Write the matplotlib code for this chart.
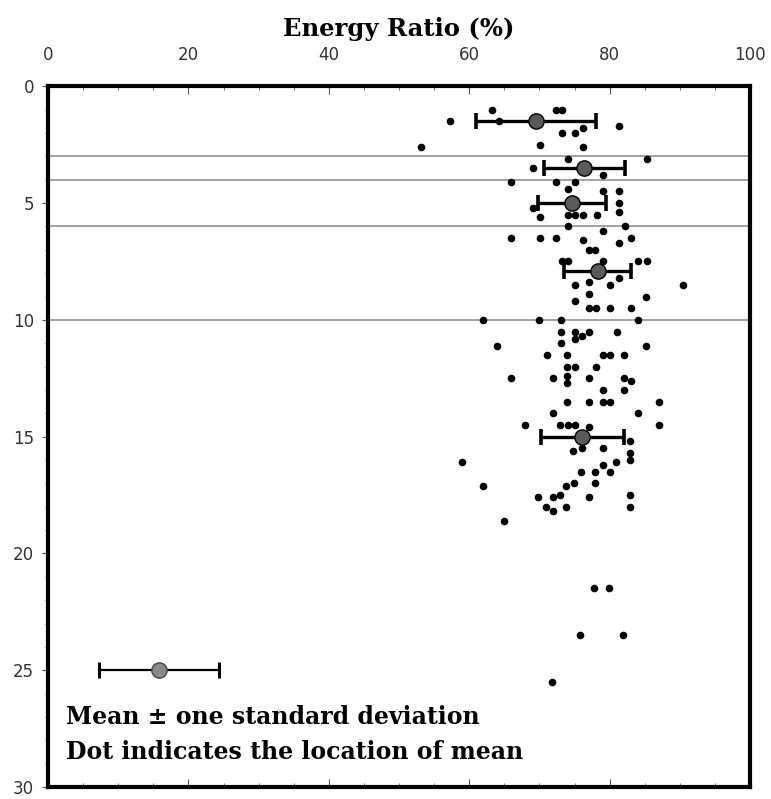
import matplotlib.pyplot as plt
import matplotlib.ticker as ticker

# Individual measurements: energy ratio (%) and depth
ratio = [57.2, 53.2, 63.2, 64.2, 72.3, 73.2, 81.3, 76.2, 73.2, 75.0, 70.1, 76.2,
         85.3, 69.1, 79.1, 74.1, 66.0, 72.3, 75.0, 74.1, 79.1, 81.3,
         81.3, 69.1, 70.1, 74.1, 75.0, 76.2, 78.2, 81.3, 74.1, 82.2, 79.1,
         66.0, 70.1, 72.3, 76.2, 83.1, 81.3, 77.0, 77.9,
         73.2, 74.1, 79.1, 84.1, 85.3, 75.0, 77.0, 80.1, 81.3, 90.5, 77.0, 85.2, 75.0,
         77.0, 78.1, 80.1, 83.1,
         62.0, 70.0, 73.1, 84.1, 73.1, 75.0, 77.1, 81.0, 76.0, 75.0,
         64.0, 73.1, 85.2, 71.1, 73.9, 79.1, 80.1, 82.0, 73.9, 75.0, 78.1,
         65.9, 72.0, 77.0, 82.0, 73.9, 73.9, 83.1, 79.1, 82.0,
         73.9, 77.0, 79.1, 80.1, 87.1, 72.0, 84.1,
         67.9, 73.0, 74.0, 75.0, 77.0, 87.1,
         82.9, 74.8, 76.0, 79.0, 82.9, 82.9, 58.9, 80.9, 79.0,
         75.9, 77.9, 80.0, 77.9, 73.8, 74.9, 61.9,
         69.8, 71.9, 73.0, 77.0, 82.9, 71.0, 73.8, 82.9, 71.9, 64.9,
         77.8, 79.9, 75.8, 81.9, 71.8]
depth = [1.5, 2.6, 1.0, 1.5, 1.0, 1.0, 1.7, 1.8, 2.0, 2.0, 2.5, 2.6,
         3.1, 3.5, 3.8, 3.1, 4.1, 4.1, 4.1, 4.4, 4.5, 4.5,
         5.0, 5.2, 5.6, 5.5, 5.5, 5.5, 5.5, 5.4, 6.0, 6.0, 6.2,
         6.5, 6.5, 6.5, 6.6, 6.5, 6.7, 7.0, 7.0,
         7.5, 7.5, 7.5, 7.5, 7.5, 8.5, 8.4, 8.5, 8.2, 8.5, 8.9, 9.0, 9.2,
         9.5, 9.5, 9.5, 9.5,
         10.0, 10.0, 10.0, 10.0, 10.5, 10.5, 10.5, 10.5, 10.7, 10.8,
         11.1, 11.0, 11.1, 11.5, 11.5, 11.5, 11.5, 11.5, 12.0, 12.0, 12.0,
         12.5, 12.5, 12.5, 12.5, 12.4, 12.7, 12.6, 13.0, 13.0,
         13.5, 13.5, 13.5, 13.5, 13.5, 14.0, 14.0,
         14.5, 14.5, 14.5, 14.5, 14.6, 14.5,
         15.2, 15.6, 15.5, 15.5, 15.7, 16.0, 16.1, 16.1, 16.2,
         16.5, 16.5, 16.5, 17.0, 17.1, 17.0, 17.1,
         17.6, 17.6, 17.5, 17.6, 17.5, 18.0, 18.0, 18.0, 18.2, 18.6,
         21.5, 21.5, 23.5, 23.5, 25.5]

# Mean +/- one standard deviation per group
mean_ratio = [69.5, 76.4, 74.7, 78.3, 76.1]
sd_ratio = [8.6, 5.8, 4.85, 4.8, 5.9]
mean_depth = [1.5, 3.5, 5.0, 7.9, 15.0]

# Layer boundaries
boundaries = [3.0, 4.0, 6.0, 10.0]

# Key example
key_mean, key_sd, key_depth = 15.8, 8.6, 25.0

serif = 'DejaVu Serif'

fig = plt.figure(figsize=(7.71, 7.99), dpi=100)
ax = fig.add_axes([0.0623, 0.015, 0.9105, 0.877])

for b in boundaries:
    ax.axhline(b, color='#9a9a9a', lw=1.3, zorder=1)

ax.scatter(ratio, depth, s=20, color='black', zorder=3)

ax.errorbar(mean_ratio, mean_depth, xerr=sd_ratio, fmt='o', color='black',
            mfc='#5a5a5a', mec='black', ms=11, elinewidth=2.4, capsize=6,
            capthick=2.6, zorder=4)
ax.errorbar([key_mean], [key_depth], xerr=[key_sd], fmt='o', color='black',
            mfc='#8a8a8a', mec='#444444', ms=11, elinewidth=1.6, capsize=6,
            capthick=2.2, zorder=4)

ax.text(2.6, 27.0, 'Mean \u00b1 one standard deviation', fontsize=17,
        fontweight='bold', family=serif, va='center')
ax.text(2.6, 28.5, 'Dot indicates the location of mean', fontsize=17,
        fontweight='bold', family=serif, va='center')

ax.set_xlim(0, 100)
ax.set_ylim(30, 0)

ax.xaxis.tick_top()
ax.xaxis.set_label_position('top')
ax.xaxis.set_major_locator(ticker.MultipleLocator(20))
ax.xaxis.set_minor_locator(ticker.MultipleLocator(5))
ax.yaxis.set_major_locator(ticker.MultipleLocator(5))
ax.yaxis.set_minor_locator(ticker.MultipleLocator(1))

ax.tick_params(axis='x', which='both', direction='in', top=True, bottom=True,
               labeltop=True, labelbottom=False, color='#555555')
ax.tick_params(axis='x', which='major', length=6, pad=16, labelsize=12,
               labelcolor='#333333')
ax.tick_params(axis='x', which='minor', length=3)
ax.tick_params(axis='y', which='both', direction='out', left=True, right=False,
               color='#555555')
ax.tick_params(axis='y', which='major', length=4, labelsize=12,
               labelcolor='#333333', pad=6)
ax.tick_params(axis='y', which='minor', length=2)

for side in ['top', 'bottom', 'left', 'right']:
    ax.spines[side].set_linewidth(3)
    ax.spines[side].set_color('black')

ax.set_xlabel('Energy Ratio (%)', fontsize=17.5, fontweight='bold',
              family=serif, labelpad=7)

plt.savefig('out.png', dpi=100)
